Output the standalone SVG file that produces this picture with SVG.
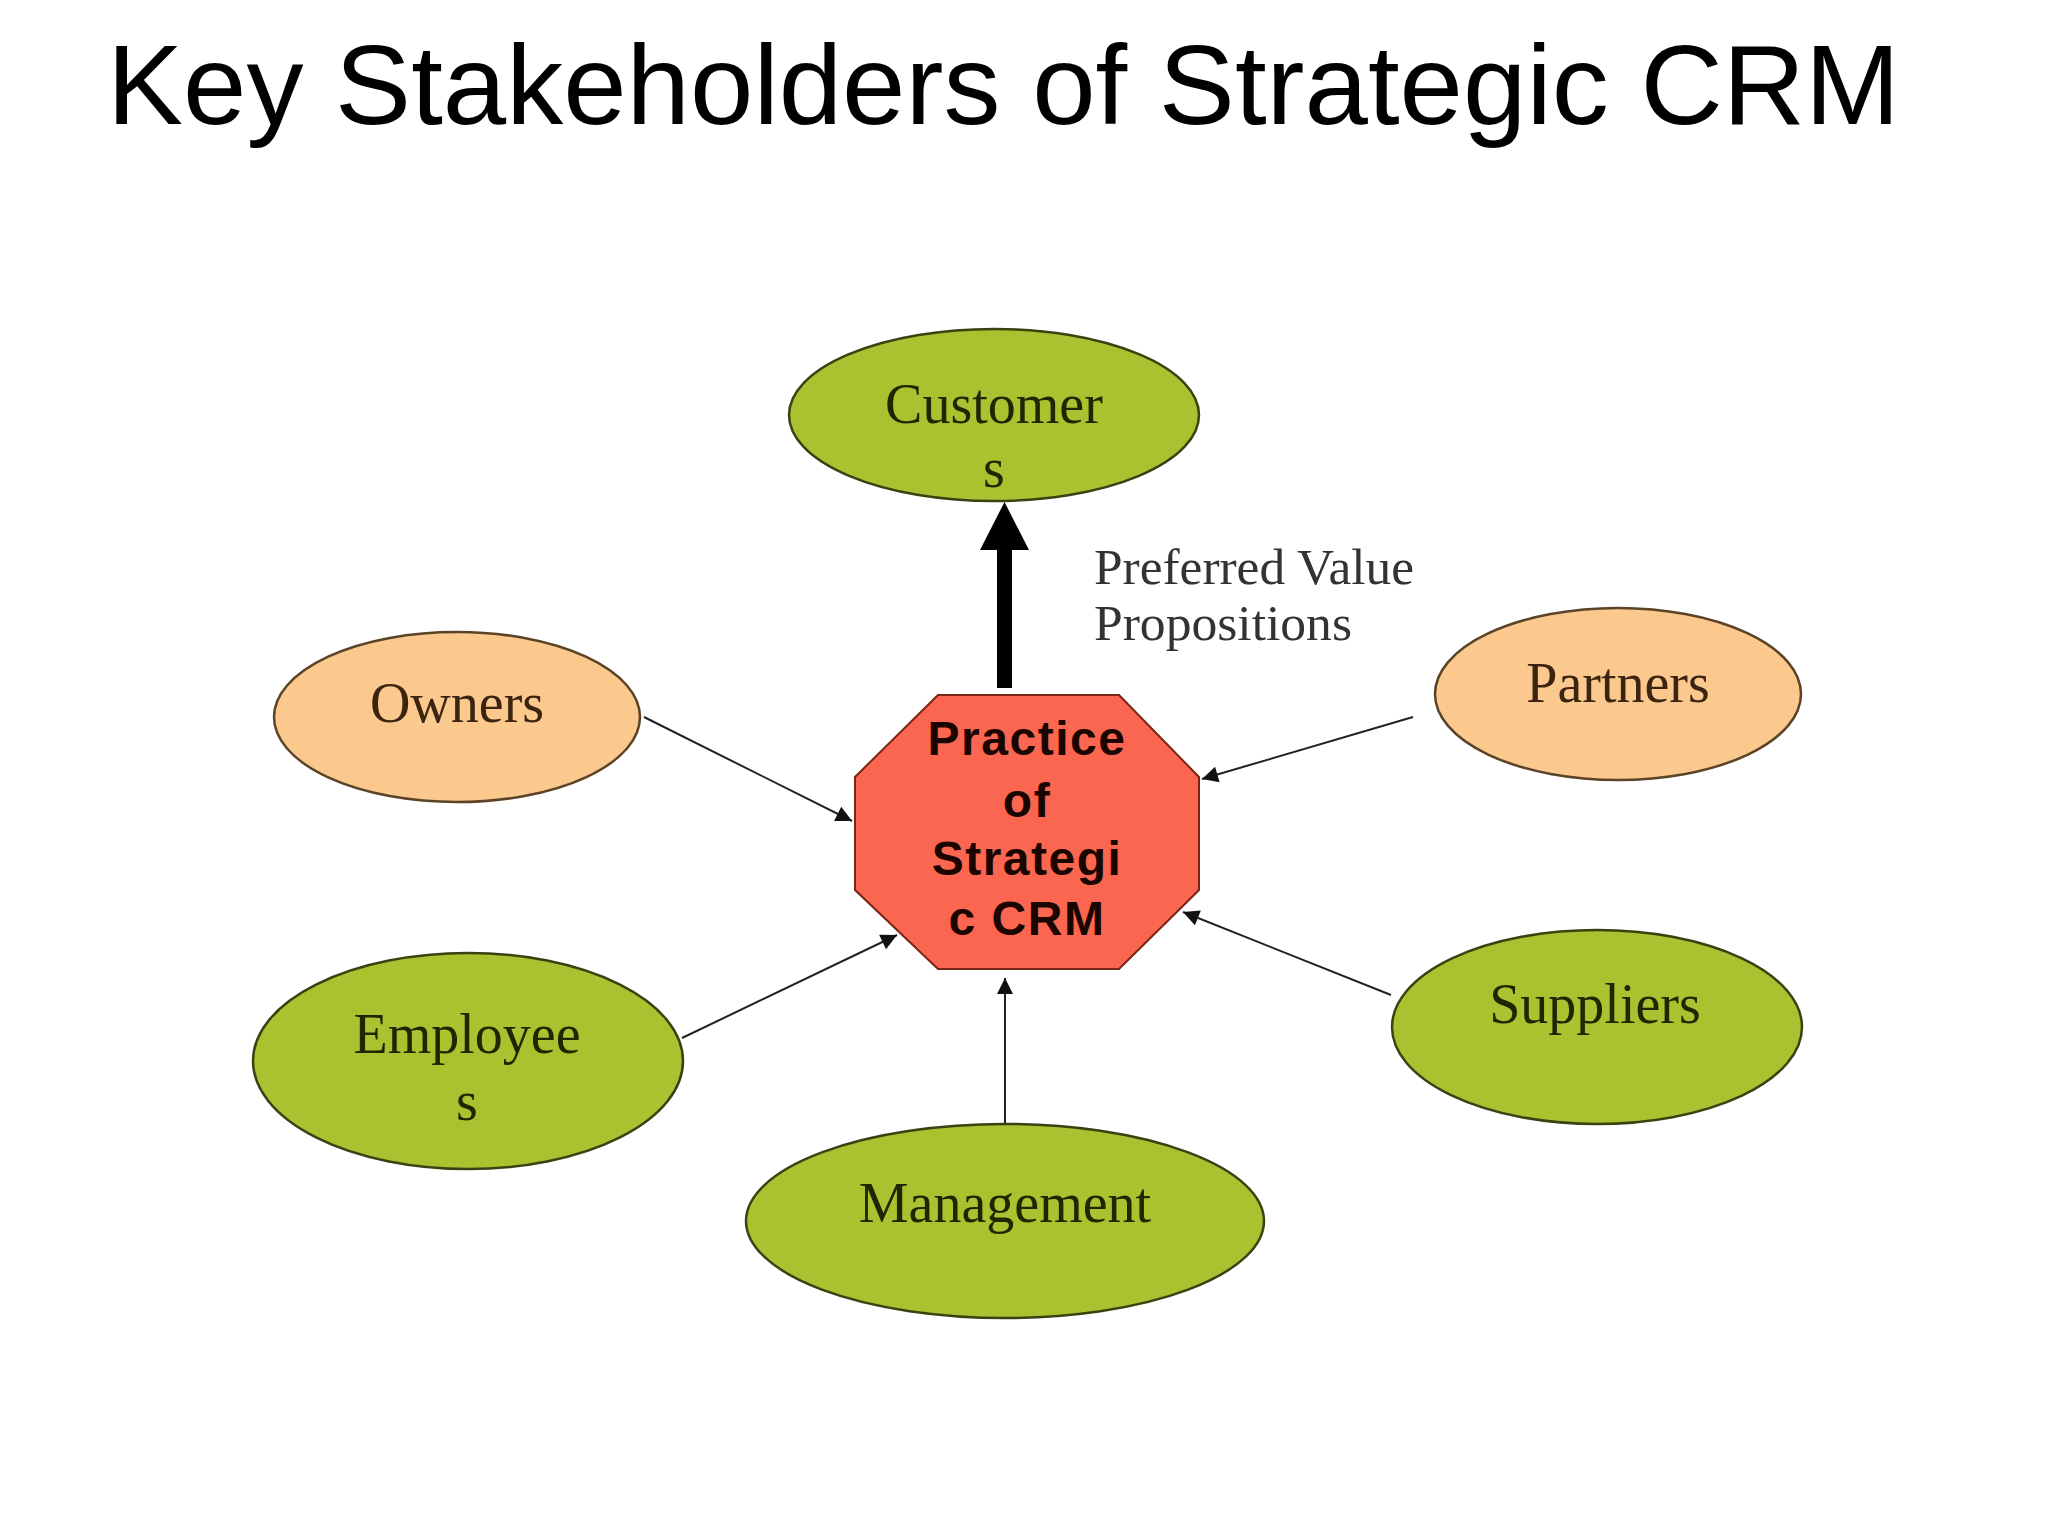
<svg xmlns="http://www.w3.org/2000/svg" width="2048" height="1536" viewBox="0 0 2048 1536">
<style>
.title{font-family:"Liberation Sans",Arial,sans-serif;font-size:113px;fill:#000}
.green{fill:#ABC130;stroke:#3a4212;stroke-width:2.5}
.orange{fill:#FBC88E;stroke:#5b4326;stroke-width:2.5}
.lbl{font-family:"Liberation Serif","Times New Roman",serif;font-size:56px;text-anchor:middle}
.lg{fill:#1f2600}
.lo{fill:#3b2410}
.ctr{font-family:"Liberation Sans",Arial,sans-serif;font-weight:bold;font-size:48px;fill:#1a0500;text-anchor:middle;letter-spacing:1.5px}
.edge{stroke:#222;stroke-width:2;fill:none;marker-end:url(#ah)}
.note{font-family:"Liberation Serif","Times New Roman",serif;font-size:50px;fill:#333}
</style>
<defs>
<marker id="ah" viewBox="0 0 10 10" refX="10" refY="5" markerWidth="10" markerHeight="8" markerUnits="strokeWidth" orient="auto">
<path d="M0,0 L10,5 L0,10 z" fill="#111"/>
</marker>
</defs>
<rect width="2048" height="1536" fill="#fff"/>
<text class="title" x="107" y="124" textLength="1793" lengthAdjust="spacingAndGlyphs">Key Stakeholders of Strategic CRM</text>

<g id="connectors">
<line class="edge" x1="644" y1="717" x2="852" y2="821"/>
<line class="edge" x1="1413" y1="717" x2="1202" y2="779"/>
<line class="edge" x1="682" y1="1038" x2="897" y2="935"/>
<line class="edge" x1="1391" y1="995" x2="1183" y2="912"/>
<line class="edge" x1="1005" y1="1126" x2="1005" y2="978"/>
<g id="value-arrow">
<rect x="997" y="546" width="15" height="142" fill="#000"/>
<path d="M1004.5,502 L1029,550 L980,550 z" fill="#000"/>
</g>
<text class="note" x="1094" y="584" textLength="320" lengthAdjust="spacingAndGlyphs">Preferred Value</text>
<text class="note" x="1094" y="640" textLength="258" lengthAdjust="spacingAndGlyphs">Propositions</text>
</g>

<g id="customers">
<ellipse class="green" cx="994" cy="415" rx="205" ry="86"/>
<text class="lbl lg" x="994" y="423">Customer</text>
<text class="lbl lg" x="994" y="487">s</text>
</g>
<g id="crm">
<polygon points="938,695 1119,695 1199,777 1199,890 1119,969 938,969 855,890 855,777" fill="#FA6650" stroke="#7a2414" stroke-width="2"/>
<text class="ctr" x="1027" y="755">Practice</text>
<text class="ctr" x="1027" y="817">of</text>
<text class="ctr" x="1027" y="875">Strategi</text>
<text class="ctr" x="1027" y="935">c CRM</text>
</g>
<g id="owners">
<ellipse class="orange" cx="457" cy="717" rx="183" ry="85"/>
<text class="lbl lo" x="457" y="722">Owners</text>
</g>
<g id="partners">
<ellipse class="orange" cx="1618" cy="694" rx="183" ry="86"/>
<text class="lbl lo" x="1618" y="702">Partners</text>
</g>
<g id="employees">
<ellipse class="green" cx="468" cy="1061" rx="215" ry="108"/>
<text class="lbl lg" x="467" y="1053">Employee</text>
<text class="lbl lg" x="467" y="1120">s</text>
</g>
<g id="suppliers">
<ellipse class="green" cx="1597" cy="1027" rx="205" ry="97"/>
<text class="lbl lg" x="1595" y="1023">Suppliers</text>
</g>
<g id="management">
<ellipse class="green" cx="1005" cy="1221" rx="259" ry="97"/>
<text class="lbl lg" x="1005" y="1222">Management</text>
</g>
</svg>
